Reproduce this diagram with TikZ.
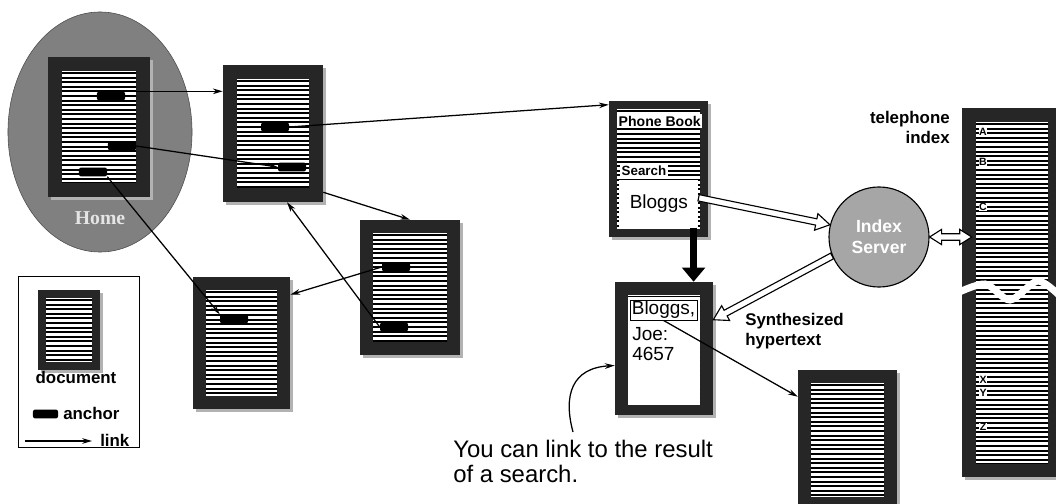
\documentclass[tikz,border=0pt]{standalone}
\usepackage{fontspec}
\setmainfont{Liberation Sans}
\newfontfamily\homefont{Liberation Serif}
\usetikzlibrary{arrows.meta,calc,fit,shapes.geometric}

\tikzset{
  pageframe/.style={fill=black!85, inner sep=0pt},
  textline/.style={line width=1.3pt},
  hotspot/.style={fill=black, rounded corners=1.5pt, inner sep=0pt, minimum width=0.7cm, minimum height=0.22cm},
  link/.style={line width=0.9pt, -{Stealth[length=7pt,width=4pt]}},
  hollow/.style={fill=white, line width=0.8pt, line join=miter},
  lbl/.style={font=\bfseries\fontsize{12}{14}\selectfont, inner sep=0pt},
  entry/.style={font=\fontsize{13.5}{13.5}\selectfont, inner sep=0pt},
}

% a page: name, left, top, right, bottom, margin (pixels)
\newcommand{\docpage}[6]{%
  \fill[black!30] (#2+3,#3+3) rectangle (#4+3,#5+3);
  \node[pageframe, fit={(#2,#3) (#4,#5)}] (#1) {};
  \fill[white] (#2+#6,#3+#6) rectangle (#4-#6,#5-#6);
  \begin{scope}
    \clip (#2+#6,#3+#6) rectangle (#4-#6,#5-#6);
    \foreach \k in {0,...,80}
      \draw[textline] (#2,#3+#6+2+4.6*\k) -- (#4,#3+#6+2+4.6*\k);
  \end{scope}}

% open arrow from #1 to #2
\newcommand{\hollowarrow}[2]{%
  \coordinate (hb) at ($(#2)!0.35cm!(#1)$);
  \draw[hollow] ($(#1)!0.08cm!90:(#2)$) -- ($(hb)!0.08cm!90:(#2)$)
    -- ($(hb)!0.21cm!90:(#2)$) -- (#2) -- ($(hb)!0.21cm!-90:(#2)$)
    -- ($(hb)!0.08cm!-90:(#2)$) -- ($(#1)!0.08cm!-90:(#2)$) -- cycle;}

% open arrow with a head at both ends
\newcommand{\hollowboth}[2]{%
  \coordinate (ha) at ($(#1)!0.3cm!(#2)$);
  \coordinate (hb) at ($(#2)!0.3cm!(#1)$);
  \draw[hollow] (#1) -- ($(ha)!0.19cm!90:(#2)$) -- ($(ha)!0.08cm!90:(#2)$)
    -- ($(hb)!0.08cm!90:(#2)$) -- ($(hb)!0.19cm!90:(#2)$) -- (#2)
    -- ($(hb)!0.19cm!-90:(#2)$) -- ($(hb)!0.08cm!-90:(#2)$)
    -- ($(ha)!0.08cm!-90:(#2)$) -- ($(ha)!0.19cm!-90:(#2)$) -- cycle;}

\begin{document}
\begin{tikzpicture}[x=0.025cm, y=-0.025cm]
  \useasboundingbox (0,0) rectangle (1056,504);

  % home area
  \node[ellipse, fill=black!50, draw=black!70, minimum width=4.6cm, minimum height=6cm, inner sep=0pt] (homezone) at (100,132) {};
  \node[font=\homefont\bfseries\fontsize{14}{14}\selectfont, text=black!10] (homelabel) at (100,218) {Home};

  % pages
  \docpage{home}{48}{57}{150}{197}{14}
  \docpage{docA}{223}{65}{323}{202}{14}
  \docpage{docB}{360}{220}{460}{355}{13}
  \docpage{docC}{193}{277}{290}{409}{13}
  \docpage{target}{798}{370}{897}{510}{13}

  % anchors
  \node[hotspot] (h1) at (111,96) {};
  \node[hotspot] (h2) at (122,146) {};
  \node[hotspot] (h3) at (93,172) {};
  \node[hotspot] (a1) at (275,127) {};
  \node[hotspot] (a2) at (292,167) {};
  \node[hotspot] (b1) at (396,267) {};
  \node[hotspot] (b2) at (394,327) {};
  \node[hotspot] (d1) at (234,319) {};

  % phone book
  \docpage{phonebook}{609}{101}{708}{237}{8}
  \node[fill=white, inner sep=1pt, anchor=west, font=\bfseries\fontsize{10}{10}\selectfont] (pbtitle) at (617,121) {Phone Book};
  \node[fill=white, inner sep=1pt, anchor=west, font=\bfseries\fontsize{9.5}{9.5}\selectfont] (search) at (620,171) {Search};
  \node[entry, fill=white, minimum width=1.975cm, minimum height=1.175cm, anchor=north west] (query) at (619,180) {Bloggs};

  % search result
  \docpage{result}{615}{282}{713}{415}{13}
  \fill[white] (628,297) rectangle (700,405);
  \node[entry, draw, line width=0.6pt, fill=white, minimum width=1.675cm, minimum height=0.5cm] (bj) at (663.5,310) {Bloggs,};
  \node[entry, anchor=base west] (joe) at (632,340) {Joe:};
  \node[entry, anchor=base west] (number) at (632,360) {4657};

  \coordinate (qdown) at ($(query.south east)+(-5,0)$);
  \draw[line width=4.5pt, -{Triangle[length=10pt,width=16pt]}] (qdown) -- (qdown |- result.north);

  % index server and telephone index
  \node[circle, draw, line width=0.8pt, fill=black!35, minimum size=2.5cm, align=center, text=white,
        font=\bfseries\fontsize{12.5}{15}\selectfont] (server) at (879,237) {Index\\Server};
  \docpage{telindex}{962}{108}{1062}{477}{14}
  \foreach \l/\y in {A/132,B/162,C/207,X/380,Y/393,Z/427}
    \node[font=\bfseries\fontsize{7.5}{7.5}\selectfont, fill=white, inner sep=0.3pt] (ix\l) at (983,\y) {\l};
  \draw[white, line width=5pt] plot[smooth] coordinates {(955,294) (985,284) (1010,300) (1038,281) (1062,298)};
  \node[lbl, anchor=north east, align=right] (indexlabel) at (950,111) {telephone\\index};

  \coordinate (qout) at ($(query.east)+(0,-6)$);
  \hollowarrow{qout}{server.166}
  \coordinate (rin) at ($(result.north east)+(0,38)$);
  \hollowarrow{server.202}{rin}
  \coordinate (ixin) at ($(telindex.west |- server.east)+(10,0)$);
  \hollowboth{server.east}{ixin}
  \node[lbl, anchor=north west, align=left] (synth) at (745,313) {Synthesized\\hypertext};

  % links
  \draw[link] (h1.north east) -- (h1.north east -| docA.west);
  \draw[link] (h2.east) -- (a2.west);
  \draw[link] (h3.south east) -- (d1.north west);
  \coordinate (pbin) at ($(phonebook.north west)+(0,4)$);
  \draw[link] (a1.east) -- (pbin);
  \coordinate (aout) at ($(docA.south east)+(0,-10)$);
  \draw[link] (aout) -- (docB.north);
  \coordinate (cin) at ($(docC.north east)+(0,18)$);
  \draw[link] (b1.west) -- (cin);
  \coordinate (ain) at ($(docA.south)+(14,0)$);
  \draw[link] (b2.west) -- (ain);
  \coordinate (tin) at ($(target.north west)+(0,27)$);
  \draw[link] (bj.south) -- (tin);

  % caption
  \node[anchor=north west, inner sep=0pt, align=left, font=\fontsize{17}{18}\selectfont] (caption) at (453,440) {You can link to the result\\of a search.};
  \coordinate (capout) at ($(caption.north west)+(120,-8)$);
  \coordinate (resin) at ($(result.west)+(0,17)$);
  \draw[link] (capout) .. controls (563,395) and (572,368) .. (resin);

  % legend
  \node[draw, line width=0.6pt, inner sep=0pt, fit={(18,276) (139,447)}] (legend) {};
  \docpage{legdoc}{38}{290}{100}{370}{8}
  \node[lbl, anchor=base] (legdoctext) at (76,383) {document};
  \node[hotspot, minimum width=0.625cm] (legspot) at (45.5,414) {};
  \node[lbl, anchor=base west] (legspottext) at (63,419) {anchor};
  \coordinate (lk0) at (25,441);
  \coordinate (lk1) at (92,441);
  \draw[link] (lk0) -- (lk1);
  \node[lbl, anchor=base west] (legl) at (100,446) {link};
\end{tikzpicture}
\end{document}
